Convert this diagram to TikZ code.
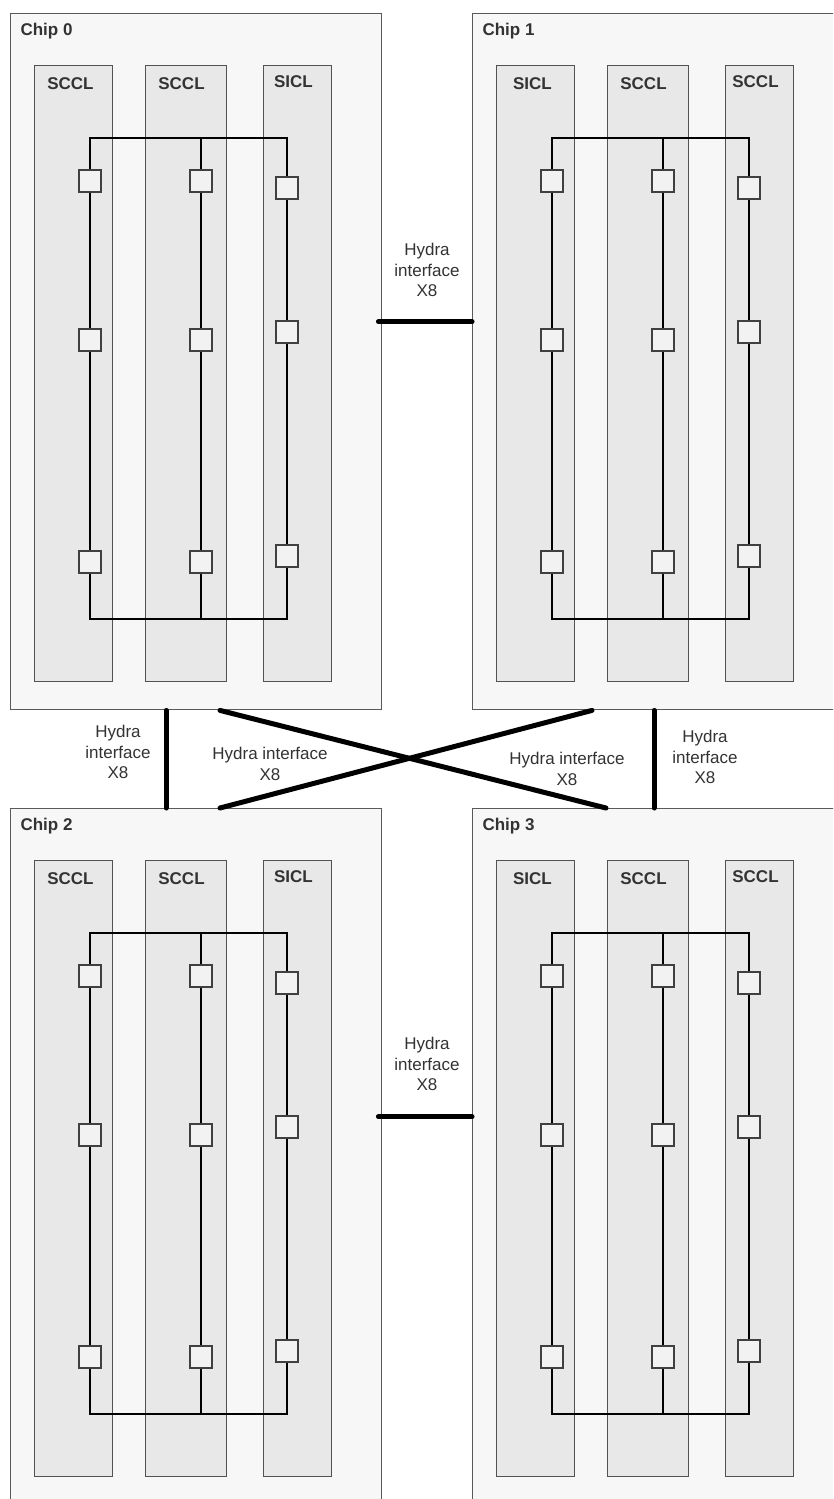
\documentclass[tikz,border=0pt]{standalone}
\usepackage{fontspec}
\setmainfont{Liberation Sans}
\usepackage{tikz}
\colorlet{chipfill}{black!3}
\colorlet{chipedge}{black!65}
\colorlet{colfill}{black!9}
\colorlet{coledge}{black!68}
\colorlet{swfill}{black!5}
\colorlet{swedge}{black!75}
\colorlet{textcol}{black!80}

\tikzset{
  chipbox/.style={draw=chipedge,fill=chipfill,line width=1.4pt,inner sep=0pt,
    minimum width=371pt,minimum height=696pt,anchor=north west},
  colbox/.style={draw=coledge,fill=colfill,line width=1.4pt,inner sep=0pt,
    minimum height=616pt,anchor=north west},
  switch/.style={draw=swedge,fill=swfill,line width=1.4pt,inner sep=0pt,
    minimum size=22pt},
  bus/.style={black,line width=1.9pt},
  hydra/.style={black,line width=5pt,line cap=round},
  chipname/.style={textcol,font=\fontsize{17}{20}\selectfont\bfseries,anchor=west},
  colname/.style={textcol,font=\fontsize{17}{20}\selectfont\bfseries},
  linkname/.style={textcol,font=\fontsize{17}{20.5}\selectfont,align=center},
}

\begin{document}
\begin{tikzpicture}[x=1pt,y=-1pt]
  \path[use as bounding box,clip] (0,0) rectangle (833,1499);
  \fill[white] (0,0) rectangle (833,1499);

  % four chips, each with three clusters on a ring bus
  \foreach \c/\cx/\cy/\la/\lb/\lc in {0/10/13/SCCL/SCCL/SICL,
                                     1/472/13/SICL/SCCL/SCCL,
                                     2/10/808/SCCL/SCCL/SICL,
                                     3/472/808/SICL/SCCL/SCCL}{
    \begin{scope}[shift={(\cx,\cy)}]
      \node[chipbox] (chip\c) at (0,0) {};
      \node[chipname] (chip\c-name) at (7,18) {Chip \c};

      \node[colbox,minimum width=78pt] (col\c-1) at (24,52) {};
      \node[colbox,minimum width=81pt] (col\c-2) at (135,52) {};
      \node[colbox,minimum width=68pt] (col\c-3) at (253,52) {};
      \node[colname] (lab\c-1) at (60.5,71) {\la};
      \node[colname] (lab\c-2) at (171.5,71) {\lb};
      \node[colname] (lab\c-3) at (283.5,69) {\lc};

      \foreach \k/\bx/\ya/\yb/\yc in {1/80/168/327/549,
                                     2/191/168/327/549,
                                     3/277/175/319/543}{
        \coordinate (bt\c-\k) at (\bx,125);
        \coordinate (bb\c-\k) at (\bx,606);
        \node[switch] (sw\c-\k-1) at (\bx,\ya) {};
        \node[switch] (sw\c-\k-2) at (\bx,\yb) {};
        \node[switch] (sw\c-\k-3) at (\bx,\yc) {};
        \draw[bus]
          (bt\c-\k) -- (sw\c-\k-1) (sw\c-\k-1) -- (sw\c-\k-2)
          (sw\c-\k-2) -- (sw\c-\k-3) (sw\c-\k-3) -- (bb\c-\k);
      }
      \draw[bus] ([xshift=-0.95pt]bt\c-1) -- ([xshift=0.95pt]bt\c-3);
      \draw[bus] ([xshift=-0.95pt]bb\c-1) -- ([xshift=0.95pt]bb\c-3);
    \end{scope}
  }

  % hydra links between the chips
  \draw[hydra]
    ([xshift=-4pt,yshift=40pt]chip0.east) -- ([yshift=40pt]chip1.west);
  \draw[hydra]
    ([xshift=-4pt,yshift=40pt]chip2.east) -- ([yshift=40pt]chip3.west);
  \draw[hydra]
    ([xshift=156pt]chip0.south west) -- ([xshift=156pt]chip2.north west);
  \draw[hydra]
    ([xshift=182pt]chip1.south west) -- ([xshift=182pt]chip3.north west);
  \draw[hydra]
    ([xshift=210pt]chip0.south west) -- ([xshift=134pt]chip3.north west);
  \draw[hydra]
    ([xshift=120pt]chip1.south west) -- ([xshift=210pt]chip2.north west);

  \node[linkname] (l01) at (427,270) {Hydra\\interface\\X8};
  \node[linkname] (l23) at (427,1064) {Hydra\\interface\\X8};
  \node[linkname] (l02) at (118,752) {Hydra\\interface\\X8};
  \node[linkname] (l13) at (705,757) {Hydra\\interface\\X8};
  \node[linkname] (l03) at (270,764) {Hydra interface\\X8};
  \node[linkname] (l12) at (567,769) {Hydra interface\\X8};
\end{tikzpicture}
\end{document}
